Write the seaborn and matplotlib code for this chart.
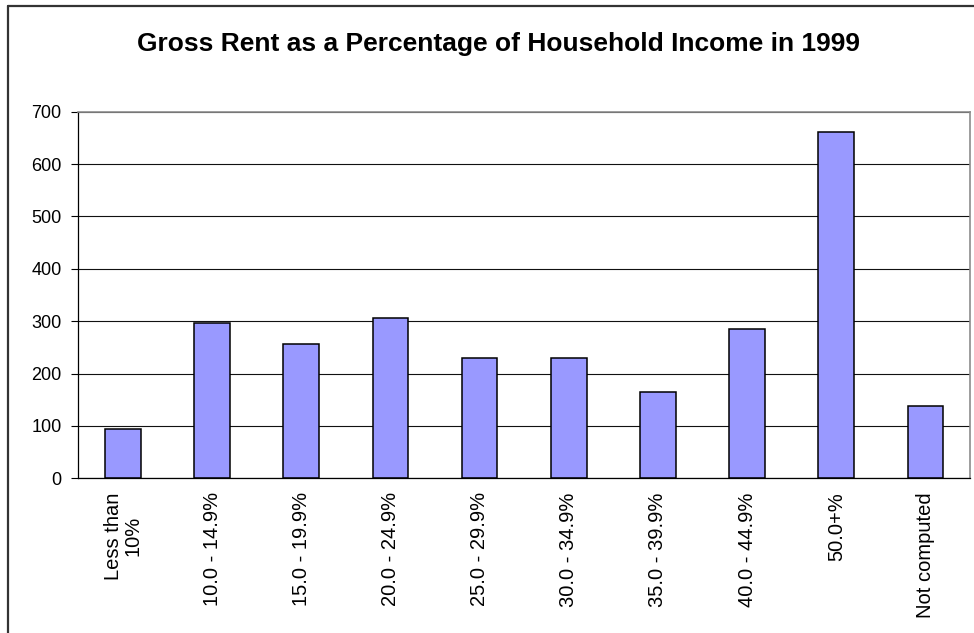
import matplotlib
matplotlib.use('Agg')
import matplotlib.pyplot as plt
import seaborn as sns
import pandas as pd
import numpy as np
from matplotlib.lines import Line2D

# data
categories = ['Less than\n10%', '10.0 - 14.9%', '15.0 - 19.9%', '20.0 - 24.9%',
              '25.0 - 29.9%', '30.0 - 34.9%', '35.0 - 39.9%', '40.0 - 44.9%',
              '50.0+%', 'Not computed']
households = [94, 296, 257, 306, 230, 230, 164, 286, 662, 139]
y_ticks = [0, 100, 200, 300, 400, 500, 600, 700]

df = pd.DataFrame({'category': categories, 'households': households})

sns.set_style('white')
plt.rcParams['font.family'] = ['Liberation Sans', 'DejaVu Sans']
plt.rcParams['text.color'] = 'black'
plt.rcParams['xtick.color'] = 'black'
plt.rcParams['ytick.color'] = 'black'

fig = plt.figure(figsize=(9.74, 6.33), dpi=100)
ax = fig.add_axes([0.0804, 0.2444, 0.9155, 0.5791])

sns.barplot(data=df, x='category', y='households', ax=ax, color='#9999FF',
            width=0.4, edgecolor='black', linewidth=1.1, saturation=1)

ax.set_ylim(0, 700)
ax.set_yticks(y_ticks)
ax.set_xlim(-0.5, len(categories) - 0.5)
ax.yaxis.grid(True, color='#111111', linewidth=0.8)
ax.set_axisbelow(True)

# tick marks sit between categories, labels at category centres
ax.set_xticks(np.arange(len(categories)))
ax.set_xticklabels(categories, rotation=90, ha='center', va='top',
                   multialignment='center', fontsize=14.5, linespacing=1.05)
ax.set_xticks(np.arange(len(categories) + 1) - 0.5, minor=True)
ax.tick_params(axis='x', which='major', length=0, pad=10)
ax.tick_params(axis='x', which='minor', length=5, width=0.8, color='black', direction='out')
ax.tick_params(axis='y', which='major', length=5, width=0.8, color='black',
               direction='out', labelsize=13, pad=7, left=True)

ax.set_xlabel('')
ax.set_ylabel('')

for side in ['left', 'bottom']:
    ax.spines[side].set_color('black')
    ax.spines[side].set_linewidth(0.9)
for side in ['top', 'right']:
    ax.spines[side].set_color('#8c8c8c')
    ax.spines[side].set_linewidth(1.2)

fig.text(0.512, 0.93, 'Gross Rent as a Percentage of Household Income in 1999',
         ha='center', va='center', fontsize=19, fontweight='bold')

# chart-area border (only top and left are visible in the crop)
fig.add_artist(Line2D([8 / 974, 1.0], [1 - 5.5 / 633, 1 - 5.5 / 633],
                      transform=fig.transFigure, color='#333333', linewidth=1.6))
fig.add_artist(Line2D([8 / 974, 8 / 974], [0.0, 1 - 5.5 / 633],
                      transform=fig.transFigure, color='#333333', linewidth=1.6))

fig.savefig('out.png', dpi=100, facecolor='white')
